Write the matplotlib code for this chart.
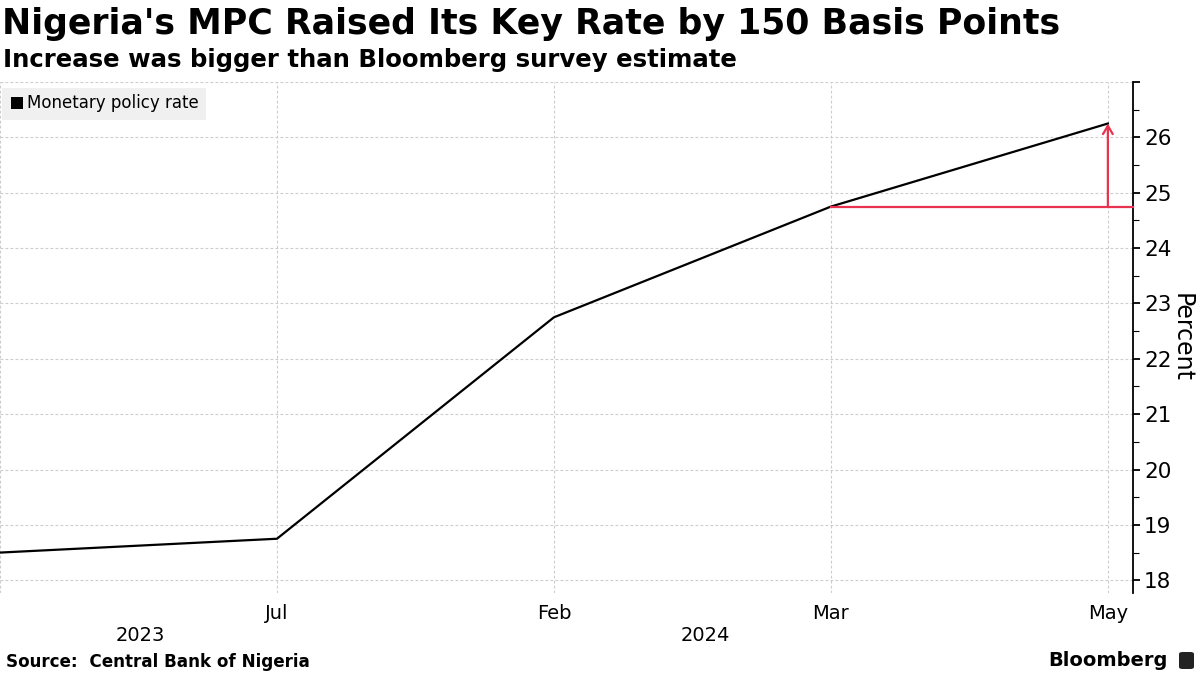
import matplotlib
matplotlib.use("Agg")
import matplotlib.pyplot as plt
from matplotlib.patches import FancyBboxPatch

# Data
tick_labels = ["", "Jul", "Feb", "Mar", "May"]
rates = [18.5, 18.75, 22.75, 24.75, 26.25]
years = ["2023", "2024"]
estimate = 24.75
series_name = "Monetary policy rate"

RED = "#e8324f"
GRID = "#cccccc"

fig = plt.figure(figsize=(12, 6.75), dpi=100)
ax = fig.add_axes([0.0, 0.1215, 0.944, 0.757])

x = list(range(len(rates)))
ax.plot(x, rates, color="black", lw=1.6, zorder=3)

xmax = 4.09

# red annotation
ax.plot([3, xmax], [estimate, estimate], color=RED, lw=1.6, zorder=4, clip_on=False)
ax.annotate("", xy=(4, rates[-1]), xytext=(4, estimate),
            arrowprops=dict(arrowstyle="->,head_length=0.6,head_width=0.35", color=RED, lw=1.6,
                            shrinkA=0, shrinkB=0), zorder=4)

# axes styling
for s in ["left", "top", "bottom"]:
    ax.spines[s].set_visible(False)
ax.spines["right"].set_linewidth(1.3)
ax.yaxis.tick_right()
ax.yaxis.set_label_position("right")
ax.set_yticks(range(18, 28))
ax.set_yticklabels([str(v) for v in range(18, 27)] + [""])
ax.set_yticks([v + 0.5 for v in range(18, 27)], minor=True)
ax.tick_params(axis="y", which="major", length=5, width=1.3, labelsize=15.5, pad=3)
ax.tick_params(axis="y", which="minor", length=4, width=0.8)
ax.set_ylabel("Percent", fontsize=17, rotation=270, labelpad=16)

ax.set_xticks(x)
ax.set_xticklabels(tick_labels, fontsize=14)
ax.tick_params(axis="x", length=0, pad=8)

ax.set_xlim(0, xmax)
ax.set_ylim(17.77, 27.0)

ax.grid(True, which="major", color=GRID, lw=0.8, ls=(0, (2.5, 2)))
ax.set_axisbelow(True)

# year labels
ax.text(0.505, -0.083, years[0], transform=ax.get_xaxis_transform(), ha="center", va="center", fontsize=14)
ax.text(2.545, -0.083, years[1], transform=ax.get_xaxis_transform(), ha="center", va="center", fontsize=14)

# legend box
fig.patches.append(FancyBboxPatch((2 / 1200, 1 - 120 / 675), 204 / 1200, 32 / 675,
                                  boxstyle="square,pad=0", transform=fig.transFigure,
                                  facecolor="#f0f0f0", edgecolor="none", zorder=5))
fig.patches.append(FancyBboxPatch((11 / 1200, 1 - 109 / 675), 12 / 1200, 12 / 675,
                                  boxstyle="square,pad=0", transform=fig.transFigure,
                                  facecolor="black", edgecolor="none", zorder=6))
fig.text(27 / 1200, 1 - 103 / 675, series_name, fontsize=12, va="center", ha="left", zorder=7)

# titles
fig.text(2 / 1200, 1 - 24 / 675, "Nigeria's MPC Raised Its Key Rate by 150 Basis Points",
         fontsize=25, fontweight="bold", va="center", ha="left")
fig.text(3 / 1200, 1 - 60 / 675, "Increase was bigger than Bloomberg survey estimate",
         fontsize=17.6, fontweight="bold", va="center", ha="left")
fig.text(6 / 1200, 1 - 662 / 675, "Source:  Central Bank of Nigeria",
         fontsize=12.1, fontweight="bold", va="center", ha="left")
fig.text(1168 / 1200, 1 - 660 / 675, "Bloomberg",
         fontsize=14, fontweight="bold", va="center", ha="right")
fig.patches.append(FancyBboxPatch((1179 / 1200, 1 - 669 / 675), 15 / 1200, 17 / 675,
                                  boxstyle="round,pad=0,rounding_size=0.003", transform=fig.transFigure,
                                  facecolor="#222222", edgecolor="none"))

fig.savefig("out.png", dpi=100)
